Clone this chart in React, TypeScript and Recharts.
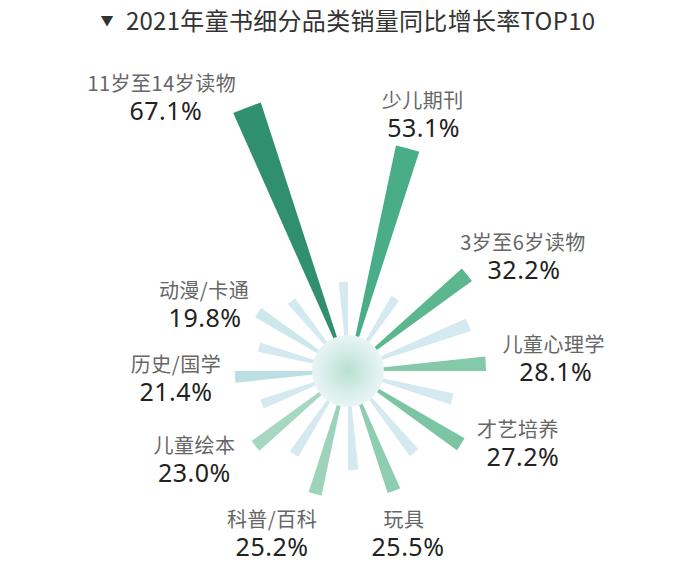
import { RadialBarChart, RadialBar, PolarAngleAxis, PolarRadiusAxis, Cell, LabelList } from 'recharts';

// categories, clockwise starting from the long spike at top-left
const CATEGORIES = [
  '11岁至14岁读物', '少儿期刊', '3岁至6岁读物', '儿童心理学', '才艺培养',
  '玩具', '科普/百科', '儿童绘本', '历史/国学', '动漫/卡通',
];
const GROWTH = [67.1, 53.1, 32.2, 28.1, 27.2, 25.5, 25.2, 23.0, 21.4, 19.8];
// short decorative spokes that sit between the categories
const SPACERS = [14.9, 14.3, 25.7, 20.0, 19.2, 17.6, 17.6, 15.7, 15.7, 15.1];

const COLORS = [
  '#2f8f6e', '#49ad87', '#5cb78f', '#84c9aa', '#7cc5a4',
  '#8ecdb1', '#9cd3ba', '#a6d8c1', '#bcdfe3', '#cde8ed',
];
const SPACER_COLOR = '#d4eaf0';

// label placement relative to the tip of each spike (name baseline)
const LABEL_DX = [-85, 15, 56, 68, 57, 10, -43, -61, -59, -54];
const LABEL_DY = [-16, -40, -25, -12, -7, 36, 33, 7, -5, -15];
const VALUE_DX = [4, 1, 1, 2, 5, 4, 0, 0, 0, 1];

const rows = CATEGORIES.flatMap((name, i) => [
  { name, value: GROWTH[i], fill: COLORS[i], idx: i },
  { name: `spacer-${i}`, value: SPACERS[i], fill: SPACER_COLOR, idx: -1 },
]);

const CX = 348;
const CY = 371;
const RAD = Math.PI / 180;

function SpikeLabel(props: any) {
  const { viewBox, index } = props;
  const row = rows[index];
  if (!row || row.idx < 0 || !viewBox) return null;
  const i = row.idx;
  const mid = (viewBox.startAngle + viewBox.endAngle) / 2;
  const tx = viewBox.cx + viewBox.outerRadius * Math.cos(mid * RAD);
  const ty = viewBox.cy - viewBox.outerRadius * Math.sin(mid * RAD);
  const x = tx + LABEL_DX[i];
  const y = ty + LABEL_DY[i];
  return (
    <g>
      <text x={x} y={y} textAnchor="middle" fontSize={20} letterSpacing={0.5} fill="#666" fontFamily="'Noto Sans CJK SC', 'Noto Sans', sans-serif">
        {row.name}
      </text>
      <text x={x + VALUE_DX[i]} y={y + 29} textAnchor="middle" fontSize={25} letterSpacing={0.5} fill="#222" fontFamily="'Noto Sans', 'Noto Sans CJK SC', sans-serif">
        {row.value.toFixed(1)}%
      </text>
    </g>
  );
}

export default function App() {
  return (
    <div style={{ position: 'absolute', left: 0, top: 0, width: 696, height: 564, background: '#fff', fontFamily: "'Noto Sans CJK SC', sans-serif" }}>
      <div style={{
        position: 'absolute', left: 0, top: 4, width: 696, textAlign: 'center',
        fontSize: 24, color: '#333', lineHeight: '32px', letterSpacing: 0.3,
      }}>
        <span style={{ fontSize: 13, marginRight: 12, verticalAlign: 'middle', position: 'relative', top: -3 }}>▼</span>
        2021年童书细分品类销量同比增长率TOP10
      </div>
      <RadialBarChart
        width={696}
        height={564}
        data={rows}
        layout="centric"
        cx={CX}
        cy={CY}
        innerRadius={34}
        outerRadius={293}
        startAngle={102}
        endAngle={-258}
        barCategoryGap="33.3%"
        margin={{ top: 0, right: 0, bottom: 0, left: 0 }}
      >
        <PolarAngleAxis type="category" dataKey="name" tick={false} axisLine={false} tickLine={false} />
        <PolarRadiusAxis type="number" domain={[0, 70]} tick={false} axisLine={false} />
        <RadialBar dataKey="value" isAnimationActive={false}>
          {rows.map((r) => (
            <Cell key={r.name} fill={r.fill} />
          ))}
          <LabelList dataKey="value" content={<SpikeLabel />} />
        </RadialBar>
      </RadialBarChart>
      <div style={{
        position: 'absolute', left: CX - 36, top: CY - 36, width: 72, height: 72, borderRadius: '50%',
        background: 'radial-gradient(circle, #b8e0cf 0%, #d9eeea 45%, #eef7f8 80%, #f2f8f9 100%)',
      }} />
    </div>
  );
}
